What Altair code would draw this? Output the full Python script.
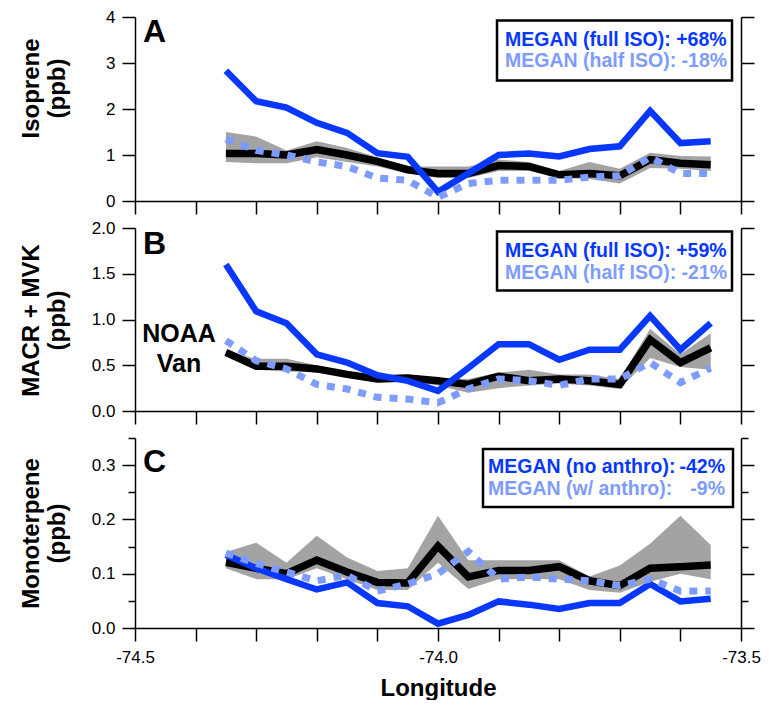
import altair as alt
import pandas as pd

# ---------------- data ----------------
lon = [-74.35, -74.30, -74.25, -74.20, -74.15, -74.10, -74.05, -74.00, -73.95,
       -73.90, -73.85, -73.80, -73.75, -73.70, -73.65, -73.60, -73.55]

# Panel A: isoprene (ppb)
iso_obs = [1.03, 1.03, 1.00, 1.12, 1.00, 0.86, 0.68, 0.60, 0.60, 0.77, 0.75, 0.57, 0.60, 0.55, 0.90, 0.82, 0.79]
iso_hi = [1.50, 1.40, 1.10, 1.30, 1.15, 0.95, 0.75, 0.75, 0.75, 0.90, 0.85, 0.65, 0.85, 0.70, 1.05, 0.98, 0.97]
iso_lo = [0.85, 0.82, 0.82, 0.95, 0.85, 0.75, 0.60, 0.50, 0.50, 0.65, 0.65, 0.50, 0.48, 0.38, 0.72, 0.70, 0.65]
iso_full = [2.83, 2.17, 2.03, 1.70, 1.48, 1.04, 0.96, 0.20, 0.60, 1.00, 1.03, 0.97, 1.13, 1.19, 1.96, 1.26, 1.30]
iso_half = [1.35, 1.10, 1.00, 0.85, 0.75, 0.50, 0.45, 0.08, 0.38, 0.45, 0.45, 0.45, 0.52, 0.55, 0.95, 0.60, 0.60]

# Panel B: MACR + MVK (ppb)
mvk_obs = [0.64, 0.49, 0.49, 0.46, 0.40, 0.35, 0.36, 0.33, 0.29, 0.38, 0.33, 0.35, 0.33, 0.29, 0.78, 0.53, 0.69]
mvk_hi = [0.66, 0.57, 0.57, 0.50, 0.43, 0.38, 0.40, 0.36, 0.35, 0.42, 0.45, 0.40, 0.40, 0.35, 0.90, 0.62, 0.85]
mvk_lo = [0.60, 0.45, 0.43, 0.43, 0.37, 0.33, 0.33, 0.28, 0.20, 0.25, 0.28, 0.30, 0.28, 0.24, 0.58, 0.48, 0.45]
mvk_full = [1.60, 1.09, 0.96, 0.62, 0.53, 0.39, 0.33, 0.22, 0.47, 0.73, 0.73, 0.56, 0.67, 0.67, 1.04, 0.67, 0.96]
mvk_half = [0.77, 0.55, 0.46, 0.29, 0.24, 0.15, 0.13, 0.09, 0.24, 0.35, 0.33, 0.28, 0.35, 0.35, 0.53, 0.31, 0.47]

# Panel C: monoterpene (ppb)
mt_obs = [0.121, 0.110, 0.100, 0.125, 0.103, 0.084, 0.083, 0.151, 0.094, 0.106, 0.106, 0.113, 0.087, 0.078, 0.110, 0.113, 0.116]
mt_hi = [0.140, 0.157, 0.120, 0.170, 0.130, 0.105, 0.110, 0.207, 0.125, 0.125, 0.125, 0.125, 0.095, 0.115, 0.155, 0.207, 0.153]
mt_lo = [0.110, 0.090, 0.090, 0.110, 0.090, 0.070, 0.070, 0.120, 0.072, 0.090, 0.090, 0.090, 0.070, 0.065, 0.085, 0.100, 0.090]
mt_noanthro = [0.135, 0.110, 0.090, 0.071, 0.084, 0.046, 0.040, 0.008, 0.024, 0.049, 0.043, 0.035, 0.046, 0.046, 0.081, 0.049, 0.054]
mt_wanthro = [0.138, 0.119, 0.103, 0.087, 0.097, 0.068, 0.081, 0.100, 0.141, 0.090, 0.094, 0.090, 0.087, 0.078, 0.090, 0.068, 0.068]

x_ticks = [-74.5, -74.4, -74.3, -74.2, -74.1, -74.0, -73.9, -73.8, -73.7, -73.6, -73.5]
iso_ticks = [0, 1, 2, 3, 4]
mvk_ticks = [0.0, 0.5, 1.0, 1.5, 2.0]
mt_ticks = [0.0, 0.05, 0.1, 0.15, 0.2, 0.25, 0.3, 0.35]

leg_a = ["MEGAN (full ISO): +68%", "MEGAN (half ISO): -18%"]
leg_b = ["MEGAN (full ISO): +59%", "MEGAN (half ISO): -21%"]
leg_c = ["MEGAN (no anthro):", "MEGAN (w/ anthro):"]
leg_c_pct = ["-42%", "-9%"]

BLUE = "#0838FF"
LBLUE = "#7E9CFF"
GRAY = "#A3A3A3"
FONT = "Liberation Sans"
W = 606


def panel(obs, hi, lo, m1, m2, ydom, yvals, title_lines, title_y, letter,
          letter_y, height, legend, box, leg_y, txt_off, last=False, minor=False,
          pct=None, extra=None):
    df = pd.DataFrame({"lon": lon, "obs": obs, "hi": hi, "lo": lo, "m1": m1, "m2": m2})
    base = alt.Chart(df)
    if last:
        xaxis = alt.Axis(values=x_ticks, tickSize=13, labelPadding=8,
                         labelExpr="abs(datum.value*2 - round(datum.value*2)) < 0.001 ? replace(format(datum.value, '.1f'), '\u2212', '-') : ''",
                         title="Longitude", titleFontSize=24, titleFontWeight="bold",
                         titlePadding=11, labelFlush=False)
    else:
        xaxis = alt.Axis(values=x_ticks, tickSize=13, labels=False, title=None)
    xs = alt.Scale(domain=[-74.5, -73.5], nice=False)
    ys = alt.Scale(domain=ydom, nice=False, zero=True)

    cond = "abs(datum.value*10 - round(datum.value*10)) < 0.001"
    if minor:
        lab_kw = dict(labelExpr=f"{cond} ? format(datum.value, '.1f') : ''",
                      tickSize={"condition": {"test": cond, "value": 13}, "value": 7})
        r_kw = dict(tickSize={"condition": {"test": cond, "value": 13}, "value": 7})
    else:
        fmt = "d" if yvals == iso_ticks else ".1f"
        lab_kw = dict(format=fmt, tickSize=13)
        r_kw = dict(tickSize=13)

    laxis = alt.Axis(values=yvals, title=title_lines, titleX=-104, titleY=title_y,
                     titleAngle=-90, titleBaseline="middle", titleAlign="center",
                     titleFontSize=24, titleFontWeight="bold", titleLineHeight=26,
                     labelPadding=7, labelFlush=False, **lab_kw)
    raxis = alt.Axis(values=yvals, orient="right", labels=False, title=None, **r_kw)

    x = alt.X("lon:Q", scale=xs, axis=xaxis)
    band = base.mark_area(color=GRAY).encode(
        x=x, y=alt.Y("hi:Q", scale=ys, axis=laxis), y2="lo:Q")
    black = base.mark_line(color="black", strokeWidth=7.5).encode(
        x=x, y=alt.Y("obs:Q", scale=ys, axis=None))
    blue = base.mark_line(color=BLUE, strokeWidth=6.5).encode(
        x=x, y=alt.Y("m1:Q", scale=ys, axis=raxis))
    dotted = base.mark_line(color=LBLUE, strokeWidth=7, strokeDash=[8, 8]).encode(
        x=x, y=alt.Y("m2:Q", scale=ys, axis=None))

    one = alt.Chart(pd.DataFrame({"t": [letter]}))
    let = one.mark_text(fontSize=32, fontWeight="bold", font=FONT, align="left",
                        baseline="alphabetic", color="black").encode(
        x=alt.value(8), y=alt.value(letter_y), text="t:N")
    bx0, bx1, by0, by1 = box
    rect = one.mark_rect(fill="white", stroke="black", strokeWidth=2.5).encode(
        x=alt.value(bx0), x2=alt.value(bx1), y=alt.value(by0), y2=alt.value(by1))
    layers = [band, black, blue, dotted, let, rect]
    for i, (txt, col) in enumerate(zip(legend, [BLUE, LBLUE])):
        t = alt.Chart(pd.DataFrame({"t": [txt]})).mark_text(
            fontSize=19.5, fontWeight="bold", font=FONT, align="left", baseline="middle",
            color=col).encode(x=alt.value(bx0 + txt_off), y=alt.value(leg_y[i]), text="t:N")
        layers.append(t)
    if pct is not None:
        for i, (txt, col) in enumerate(zip(pct, [BLUE, LBLUE])):
            t = alt.Chart(pd.DataFrame({"t": [txt]})).mark_text(
                fontSize=19.5, fontWeight="bold", font=FONT, align="right", baseline="middle",
                color=col).encode(x=alt.value(bx1 - 8), y=alt.value(leg_y[i]), text="t:N")
            layers.append(t)
    if extra is not None:
        for txt, ex, ey in extra:
            t = alt.Chart(pd.DataFrame({"t": [txt]})).mark_text(
                fontSize=25, fontWeight="bold", font=FONT, align="center", baseline="middle",
                color="black").encode(x=alt.value(ex), y=alt.value(ey), text="t:N")
            layers.append(t)
    return alt.layer(*layers).resolve_axis(y="independent").properties(width=W, height=height)


pa = panel(iso_obs, iso_hi, iso_lo, iso_full, iso_half, [0, 4], iso_ticks,
           ["Isoprene", "(ppb)"], 71, "A", 25, 184, leg_a,
           (362, 597, 3.5, 63.5), [22.5, 44], 8)
pb = panel(mvk_obs, mvk_hi, mvk_lo, mvk_full, mvk_half, [0, 2], mvk_ticks,
           ["MACR + MVK", "(ppb)"], 92, "B", 26, 183, leg_b,
           (362, 597, 3.5, 62.5), [23, 45], 8,
           extra=[("NOAA", 44, 106), ("Van", 44, 136)])
pc = panel(mt_obs, mt_hi, mt_lo, mt_noanthro, mt_wanthro, [0, 0.35], mt_ticks,
           ["Monoterpene", "(ppb)"], 95, "C", 34, 190, leg_c,
           (348, 598, 11, 69), [29, 51], 5, last=True, minor=True, pct=leg_c_pct)

chart = alt.vconcat(pa, pb, pc, spacing=27, bounds="flush").properties(
    padding={"left": 10, "top": 0, "right": 0, "bottom": 0}
).configure_view(stroke=None).configure_axis(
    domainColor="black", domainWidth=1.5, tickColor="black", tickWidth=1.5,
    labelFont=FONT, labelFontSize=17, labelColor="black",
    titleFont=FONT, titleColor="black", grid=False
)

chart.save("out.html", embed_options={"renderer": "svg", "actions": False})
